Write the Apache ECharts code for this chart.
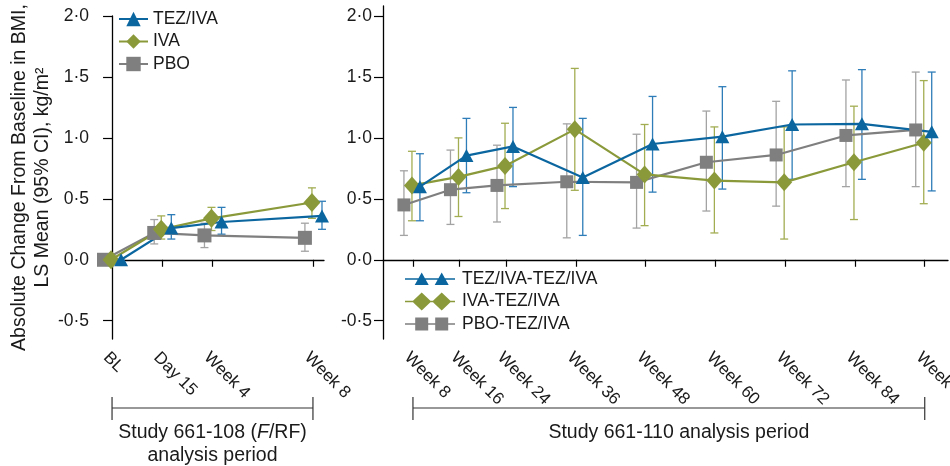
<!DOCTYPE html>
<html>
<head>
<meta charset="utf-8">
<script src="https://cdn.jsdelivr.net/npm/echarts@6/dist/echarts.min.js"></script>
<style>html,body{margin:0;padding:0;background:#fff;}#c{width:950px;height:466px;}</style>
</head>
<body>
<div id="c"></div>
<script>
// ---------- data ----------
var yTicks = [-0.5, 0, 0.5, 1.0, 1.5, 2.0];

var leftLabels = ['BL', 'Day 15', 'Week 4', 'Week 8'];
var leftWeeks = [0, 2, 4, 8];
var leftTez   = [0.00, 0.26, 0.31, 0.36];
var leftTezLo = [null, 0.17, 0.21, 0.25];
var leftTezHi = [null, 0.37, 0.43, 0.48];
var leftIva   = [0.00, 0.25, 0.34, 0.47];
var leftIvaLo = [null, 0.17, 0.24, 0.34];
var leftIvaHi = [null, 0.36, 0.43, 0.59];
var leftPbo   = [0.00, 0.22, 0.20, 0.18];
var leftPboLo = [null, 0.13, 0.10, 0.07];
var leftPboHi = [null, 0.33, 0.30, 0.30];

var rightWeeks = [8, 16, 24, 36, 48, 60, 72, 84, 96];
var rightLabels = ['Week 8', 'Week 16', 'Week 24', 'Week 36', 'Week 48', 'Week 60', 'Week 72', 'Week 84', 'Week 96'];
var rightTez   = [0.60, 0.855, 0.93, 0.675, 0.95, 1.01, 1.11, 1.115, 1.05];
var rightTezLo = [0.32, 0.55, 0.60, 0.20, 0.555, 0.58, 0.66, 0.66, 0.565];
var rightTezHi = [0.87, 1.16, 1.25, 1.16, 1.34, 1.42, 1.55, 1.56, 1.54];
var rightIva   = [0.61, 0.68, 0.77, 1.07, 0.70, 0.65, 0.635, 0.80, 0.96];
var rightIvaLo = [0.32, 0.355, 0.42, 0.57, 0.28, 0.22, 0.17, 0.33, 0.46];
var rightIvaHi = [0.89, 1.00, 1.12, 1.57, 1.11, 1.09, 1.09, 1.26, 1.47];
var rightPbo   = [0.45, 0.575, 0.61, 0.64, 0.635, 0.80, 0.86, 1.02, 1.065];
var rightPboLo = [0.20, 0.29, 0.31, 0.18, 0.26, 0.40, 0.44, 0.60, 0.60];
var rightPboHi = [0.73, 0.90, 0.94, 1.115, 1.03, 1.22, 1.30, 1.475, 1.54];

// ---------- styles ----------
var FONT = "'Liberation Sans', Arial, sans-serif";
var BLUE = '#0b66a0', BLUE_E = '#2f7db8';
var OLIVE = '#8a9a3a', OLIVE_E = '#a2ad52';
var GRAY = '#7f7f80', GRAY_E = '#a3a3a3';
var TXT = '#1a1a1a';

var dodgeL = { pbo: -0.32, iva: -0.04, tez: 0.36 };
var dodgeR = { pbo: -1.55, iva: -0.17, tez: 1.2 };

function pts(weeks, vals, d) {
  return weeks.map(function (w, i) { return [w + d, vals[i]]; });
}
function errPts(weeks, lo, hi, d) {
  var out = [];
  weeks.forEach(function (w, i) { if (lo[i] != null) out.push([w + d, lo[i], hi[i]]); });
  return out;
}
function errSeries(idx, data, color) {
  return {
    type: 'custom', xAxisIndex: idx, yAxisIndex: idx, z: 1, silent: true,
    data: data,
    renderItem: function (params, api) {
      var x = api.value(0);
      var a = api.coord([x, api.value(1)]);
      var b = api.coord([x, api.value(2)]);
      var hw = 4;
      var st = { stroke: color, lineWidth: 1.3 };
      return { type: 'group', children: [
        { type: 'line', shape: { x1: a[0], y1: a[1], x2: b[0], y2: b[1] }, style: st },
        { type: 'line', shape: { x1: a[0] - hw, y1: a[1], x2: a[0] + hw, y2: a[1] }, style: st },
        { type: 'line', shape: { x1: b[0] - hw, y1: b[1], x2: b[0] + hw, y2: b[1] }, style: st }
      ]};
    }
  };
}
function lineSeries(name, idx, data, color, symbol, size) {
  return {
    name: name, type: 'line', xAxisIndex: idx, yAxisIndex: idx, z: 3,
    data: data, symbol: symbol, symbolSize: size, showSymbol: true,
    lineStyle: { color: color, width: 2.2 },
    itemStyle: { color: color, borderWidth: 0 },
    emphasis: { disabled: true }, animation: false
  };
}

var axisLineStyle = { show: true, lineStyle: { color: '#000', width: 1.3 } };
function yAxis(idx, min, max, margin, name) {
  return {
    type: 'value', gridIndex: idx, min: min, max: max,
    axisLine: axisLineStyle,
    axisTick: { show: true, length: 9, customValues: yTicks, lineStyle: { color: '#000', width: 1.2 } },
    axisLabel: { customValues: yTicks, margin: margin, fontSize: 17.5, fontFamily: FONT, color: TXT,
      formatter: function (v) { return v.toFixed(1).replace('.', '\u00b7'); } },
    splitLine: { show: false },
    name: name || '', nameLocation: 'middle', nameGap: 45, nameRotate: 90,
    nameTextStyle: { fontSize: 19.5, fontFamily: FONT, color: TXT, lineHeight: 23, align: 'center' }
  };
}
function xAxis(idx, min, max, weeks, labels) {
  return {
    type: 'value', gridIndex: idx, min: min, max: max,
    axisLine: axisLineStyle,
    axisTick: { show: true, length: 7, customValues: weeks, lineStyle: { color: '#000', width: 1.2 } },
    axisLabel: { customValues: weeks, rotate: -45, margin: 10, fontSize: 17, fontFamily: FONT, color: TXT,
      verticalAlign: 'top', hideOverlap: false,
      formatter: function (v) { var i = weeks.indexOf(v); return i >= 0 ? labels[i] : ''; } },
    splitLine: { show: false }
  };
}

function pathIcon(kind) {
  var c = 'M0,0 L0.01,0 L0,0.01 Z M50,18 L49.99,18 L50,17.99 Z ';
  var line = 'M0,8.2 L50,8.2 L50,9.8 L0,9.8 Z ';
  var s = '';
  [16.7, 36.7].forEach(function (cx) {
    if (kind === 'tri') s += 'M' + cx + ',2.5 L' + (cx + 7) + ',15 L' + (cx - 7) + ',15 Z ';
    else if (kind === 'dia') s += 'M' + cx + ',0 L' + (cx + 9.5) + ',9 L' + cx + ',18 L' + (cx - 9.5) + ',9 Z ';
    else s += 'M' + (cx - 6.5) + ',2.5 L' + (cx + 6.5) + ',2.5 L' + (cx + 6.5) + ',15.5 L' + (cx - 6.5) + ',15.5 Z ';
  });
  return 'path://' + c + line + s;
}

var chart = echarts.init(document.getElementById('c'), null, { renderer: 'canvas' });
var option = {
  backgroundColor: '#fff',
  animation: false,
  textStyle: { fontFamily: FONT },
  grid: [
    { left: 103, top: 16, width: 221, height: 323, containLabel: false, outerBoundsMode: 'none' },
    { left: 383, top: 6, width: 565, height: 333, containLabel: false, outerBoundsMode: 'none' }
  ],
  xAxis: [
    xAxis(0, -0.36, 8.44, leftWeeks, leftLabels),
    xAxis(1, 2.85, 100, rightWeeks, rightLabels)
  ],
  yAxis: [
    yAxis(0, -0.65, 2.0, 14, 'Absolute Change From Baseline in BMI,\nLS Mean (95% CI), kg/m\u00b2'),
    yAxis(1, -0.65, 2.082, 11)
  ],
  legend: [
    { data: ['TEZ/IVA', 'IVA', 'PBO'], orient: 'vertical', left: 113, top: 4,
      itemWidth: 29, itemHeight: 18, itemGap: 2.5,
      textStyle: { fontSize: 17.5, fontFamily: FONT, color: TXT, lineHeight: 20 } },
    { data: [
        { name: 'TEZ/IVA-TEZ/IVA', icon: pathIcon('tri') },
        { name: 'IVA-TEZ/IVA', icon: pathIcon('dia') },
        { name: 'PBO-TEZ/IVA', icon: pathIcon('sq') }
      ], orient: 'vertical', left: 400, top: 264,
      itemWidth: 50, itemHeight: 18, itemGap: 2.5,
      itemStyle: { borderWidth: 0 },
      textStyle: { fontSize: 17.5, fontFamily: FONT, color: TXT, lineHeight: 20, padding: [0, 0, 0, 2] } }
  ],
  series: [
    errSeries(0, errPts(leftWeeks, leftPboLo, leftPboHi, dodgeL.pbo), GRAY_E),
    errSeries(0, errPts(leftWeeks, leftIvaLo, leftIvaHi, dodgeL.iva), OLIVE_E),
    errSeries(0, errPts(leftWeeks, leftTezLo, leftTezHi, dodgeL.tez), BLUE_E),
    lineSeries('PBO', 0, pts(leftWeeks, leftPbo, dodgeL.pbo), GRAY, 'rect', [14, 14]),
    lineSeries('IVA', 0, pts(leftWeeks, leftIva, dodgeL.iva), OLIVE, 'diamond', [17, 19]),
    lineSeries('TEZ/IVA', 0, pts(leftWeeks, leftTez, dodgeL.tez), BLUE, 'triangle', [14, 13]),

    errSeries(1, errPts(rightWeeks, rightPboLo, rightPboHi, dodgeR.pbo), GRAY_E),
    errSeries(1, errPts(rightWeeks, rightIvaLo, rightIvaHi, dodgeR.iva), OLIVE_E),
    errSeries(1, errPts(rightWeeks, rightTezLo, rightTezHi, dodgeR.tez), BLUE_E),
    lineSeries('PBO-TEZ/IVA', 1, pts(rightWeeks, rightPbo, dodgeR.pbo), GRAY, 'rect', [13, 13]),
    lineSeries('IVA-TEZ/IVA', 1, pts(rightWeeks, rightIva, dodgeR.iva), OLIVE, 'diamond', [16, 18]),
    lineSeries('TEZ/IVA-TEZ/IVA', 1, pts(rightWeeks, rightTez, dodgeR.tez), BLUE, 'triangle', [14, 13])
  ]
};
chart.setOption(option);

// brackets below the axes, positioned through the axis scales
function bracket(gridIndex, x0, x1, lines, textOffset) {
  var a = chart.convertToPixel({ gridIndex: gridIndex }, [x0, 0])[0];
  var b = chart.convertToPixel({ gridIndex: gridIndex }, [x1, 0])[0];
  var y = 408, st = { stroke: '#333', lineWidth: 1.2 };
  return [
    { type: 'line', shape: { x1: a, y1: y, x2: b, y2: y }, style: st },
    { type: 'line', shape: { x1: a, y1: y - 11, x2: a, y2: y + 12 }, style: st },
    { type: 'line', shape: { x1: b, y1: y - 11, x2: b, y2: y + 12 }, style: st },
    { type: 'text', x: (a + b) / 2 + textOffset, y: y + 13,
      style: { text: lines, fontSize: 19.5, fontFamily: FONT, fill: TXT, align: 'center', verticalAlign: 'top',
        lineHeight: 23,
        rich: {
          a: { fontSize: 19.5, fontFamily: FONT, fill: TXT, lineHeight: 23 },
          i: { fontSize: 19.5, fontFamily: FONT, fill: TXT, fontStyle: 'italic', lineHeight: 23 }
        } } }
  ];
}
var g = [].concat(
  bracket(0, leftWeeks[0], leftWeeks[leftWeeks.length - 1], '{a|Study 661-108 (}{i|F}{a|/RF)}\n{a|analysis period}', 0),
  bracket(1, rightWeeks[0], rightWeeks[rightWeeks.length - 1], 'Study 661-110 analysis period', 10)
);
chart.setOption({ graphic: g });
</script>
</body>
</html>
